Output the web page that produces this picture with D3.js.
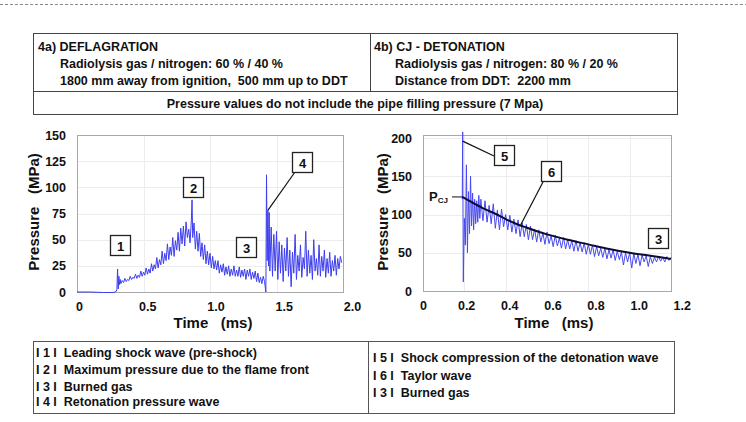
<!DOCTYPE html>
<html>
<head>
<meta charset="utf-8">
<script src="https://cdn.jsdelivr.net/npm/d3@7"></script>
<style>
body { margin: 0; background: #fff; }
svg text { font-family: "Liberation Sans", Arial, sans-serif; font-weight: bold; fill: #111; white-space: pre; }
</style>
</head>
<body>
<script>
// deflagration trace, [time ms, pressure MPa]
var deflagration = [
    [0,0],[0.1,0],[0.2,-0.5],[0.27,-0.5],[0.29,0],[0.30,2],[0.305,22],[0.31,3],[0.315,15],[0.32,7],
    [0.325,12],[0.33,8],[0.34,11],[0.35,9],[0.36,13],[0.37,10],[0.38,12],[0.39,11],[0.40,15],[0.41,12],
    [0.42,14],[0.43,13],[0.44,17],[0.45,13],[0.46,16],[0.47,14],[0.48,20],[0.49,15],[0.50,19],[0.51,16],
    [0.52,23],[0.53,17],[0.54,22],[0.55,18],[0.56,27],[0.57,20],[0.58,26],[0.59,22],[0.60,33],[0.61,23],
    [0.62,31],[0.63,26],[0.64,39],[0.65,27],[0.66,37],[0.67,30],[0.68,46],[0.69,31],[0.70,43],[0.71,35],
    [0.72,52],[0.73,34],[0.74,49],[0.75,40],[0.76,57],[0.77,39],[0.78,61],[0.79,46],[0.80,63],[0.81,44],
    [0.82,67],[0.83,52],[0.84,60],[0.85,47],[0.86,69],[0.865,88],[0.87,52],[0.88,66],[0.89,41],[0.90,58],
    [0.91,39],[0.92,56],[0.93,34],[0.94,47],[0.95,31],[0.96,45],[0.97,27],[0.98,39],[0.99,26],[1.00,37],
    [1.01,23],[1.02,34],[1.03,22],[1.04,30],[1.05,21],[1.06,30],[1.07,18],[1.08,26],[1.09,19],[1.10,27],
    [1.11,16],[1.12,24],[1.13,17],[1.14,25],[1.15,15],[1.16,22],[1.17,16],[1.18,25],[1.19,15],[1.20,21],
    [1.21,15],[1.22,24],[1.23,14],[1.24,21],[1.25,15],[1.26,22],[1.27,12],[1.28,21],[1.29,15],[1.30,22],
    [1.31,12],[1.32,19],[1.33,13],[1.34,20],[1.35,10],[1.36,18],[1.37,9],[1.38,14],[1.39,8],[1.40,15],
    [1.41,10],[1.42,0],[1.425,112],[1.43,30],[1.435,78],[1.44,25],[1.445,76],[1.45,20],[1.46,62],[1.47,15],
    [1.48,55],[1.49,20],[1.50,58],[1.51,12],[1.52,48],[1.53,18],[1.54,45],[1.55,10],[1.56,42],[1.57,20],
    [1.58,52],[1.59,15],[1.60,40],[1.61,5],[1.62,38],[1.63,18],[1.64,55],[1.65,12],[1.66,35],[1.67,20],
    [1.68,45],[1.69,14],[1.70,33],[1.71,22],[1.72,58],[1.73,15],[1.74,40],[1.75,18],[1.76,35],[1.77,12],
    [1.78,50],[1.79,20],[1.80,32],[1.81,16],[1.82,45],[1.83,15],[1.84,34],[1.85,20],[1.86,40],[1.87,14],
    [1.88,32],[1.89,18],[1.90,38],[1.91,15],[1.92,30],[1.93,20],[1.94,35],[1.95,16],[1.96,32],[1.97,22],
    [1.98,34],[1.99,28]
];

// detonation trace, [time ms, pressure MPa]
var detonation = [
    [0.19,120],[0.192,208],[0.195,12],[0.20,95],[0.205,60],[0.21,165],[0.215,50],[0.22,130],[0.225,75],[0.23,150],
    [0.235,85],[0.24,128],[0.245,80],[0.25,120],[0.255,88],[0.26,118],[0.265,90],[0.27,125],[0.275,95],[0.28,120],
    [0.29,92],[0.30,118],[0.31,90],[0.32,112],[0.33,88],[0.34,114],[0.35,82],[0.36,106],[0.37,80],[0.38,107],
    [0.39,84],[0.40,100],[0.41,80],[0.42,99],[0.43,77],[0.44,94],[0.45,75],[0.46,93],[0.47,71],[0.48,89],
    [0.49,71],[0.50,87],[0.51,67],[0.52,85],[0.53,67],[0.54,81],[0.55,64],[0.56,80],[0.57,64],[0.58,76],
    [0.59,61],[0.60,77],[0.61,62],[0.62,72],[0.63,58],[0.64,73],[0.65,59],[0.66,69],[0.67,56],[0.68,70],
    [0.69,55],[0.70,67],[0.71,55],[0.72,66],[0.73,52],[0.74,66],[0.75,52],[0.76,63],[0.77,51],[0.78,63],
    [0.79,48],[0.80,61],[0.81,48],[0.82,60],[0.83,45],[0.84,58],[0.85,46],[0.86,56],[0.87,44],[0.88,56],
    [0.89,42],[0.90,54],[0.91,43],[0.92,54],[0.93,40],[0.94,52],[0.95,41],[0.96,51],[0.97,34],[0.98,50],
    [0.99,38],[1.00,50],[1.01,30],[1.02,49],[1.03,36],[1.04,48],[1.05,33],[1.06,47],[1.07,38],[1.08,46],
    [1.09,32],[1.10,45],[1.11,36],[1.12,44],[1.13,38],[1.14,45],[1.15,39],[1.16,44],[1.17,38],[1.18,45],
    [1.19,40],[1.20,44]
];

// fitted Taylor wave curve
var taylor = [
    [0.19,123],[0.25,114],[0.30,107],[0.35,101],[0.40,94],[0.45,88],[0.50,83],[0.60,74],
    [0.70,67],[0.80,61],[0.90,55],[1.00,50],[1.10,46],[1.20,42]
];

var leftXTicks = [0, 0.5, 1.0, 1.5, 2.0];
var leftYTicks = [0, 25, 50, 75, 100, 125, 150];
var rightXTicks = [0, 0.2, 0.4, 0.6, 0.8, 1.0, 1.2];
var rightYTicks = [0, 50, 100, 150, 200];

var headerLeft = ["4a) DEFLAGRATION", "Radiolysis gas / nitrogen: 60 % / 40 %", "1800 mm away from ignition,  500 mm up to DDT"];
var headerRight = ["4b) CJ - DETONATION", "Radiolysis gas / nitrogen: 80 % / 20 %", "Distance from DDT:  2200 mm"];
var headerNote = "Pressure values do not include the pipe filling pressure (7 Mpa)";
var legendLeft = ["I 1 I  Leading shock wave (pre-shock)", "I 2 I  Maximum pressure due to the flame front", "I 3 I  Burned gas", "I 4 I  Retonation pressure wave"];
var legendRight = ["I 5 I  Shock compression of the detonation wave", "I 6 I  Taylor wave", "I 3 I  Burned gas"];

window.onload = function(){

    var w = 746, h = 422;
    var svg = d3.select("body").append("svg")
        .attr("width", w)
        .attr("height", h);

    //dashed line at the very top
    svg.append("line")
        .attr("x1", 0).attr("x2", w)
        .attr("y1", 4.5).attr("y2", 4.5)
        .style("stroke", "#888")
        .style("stroke-dasharray", "3,2");

    //header table
    var hdr = svg.append("g").style("stroke", "#444").style("fill", "none");
    hdr.append("rect").attr("x", 33.5).attr("y", 33.5).attr("width", 644).attr("height", 81);
    hdr.append("line").attr("x1", 370.5).attr("x2", 370.5).attr("y1", 33.5).attr("y2", 91.5);
    hdr.append("line").attr("x1", 33.5).attr("x2", 677.5).attr("y1", 91.5).attr("y2", 91.5);

    svg.selectAll(".hl")
        .data(headerLeft)
        .enter()
        .append("text")
        .attr("class", "hl")
        .attr("x", function(d, i){ return i == 0 ? 38 : 60; })
        .attr("y", function(d, i){ return 51 + i * 17; })
        .style("font-size", "12.5px")
        .text(function(d){ return d; });

    svg.selectAll(".hr")
        .data(headerRight)
        .enter()
        .append("text")
        .attr("class", "hr")
        .attr("x", function(d, i){ return i == 0 ? 374 : 395; })
        .attr("y", function(d, i){ return 51 + i * 17; })
        .style("font-size", "12.5px")
        .text(function(d){ return d; });

    svg.append("text")
        .attr("x", 355).attr("y", 108)
        .attr("text-anchor", "middle")
        .style("font-size", "12.5px")
        .text(headerNote);

    //----- left chart: deflagration
    var x1 = d3.scaleLinear().domain([0, 2]).range([77, 343]);
    var y1 = d3.scaleLinear().domain([0, 150]).range([292, 135]);

    //----- right chart: detonation
    var x2 = d3.scaleLinear().domain([0, 1.2]).range([423, 671]);
    var y2 = d3.scaleLinear().domain([0, 204]).range([291, 135]);

    function drawFrame(x, y, xt, yt, xShift){
        var g = svg.append("g");
        //faint grid
        g.selectAll(".gx").data(xt.slice(1, -1)).enter().append("line")
            .attr("x1", function(d){ return Math.round(x(d)) + 0.5; })
            .attr("x2", function(d){ return Math.round(x(d)) + 0.5; })
            .attr("y1", y.range()[0]).attr("y2", y.range()[1])
            .style("stroke", "#ececec");
        g.selectAll(".gy").data(yt.slice(1)).enter().append("line")
            .attr("x1", x.range()[0]).attr("x2", x.range()[1])
            .attr("y1", function(d){ return Math.round(y(d)) + 0.5; })
            .attr("y2", function(d){ return Math.round(y(d)) + 0.5; })
            .style("stroke", "#ececec");
        //plot frame
        g.append("rect")
            .attr("x", x.range()[0] + 0.5)
            .attr("y", y.range()[1] + 0.5)
            .attr("width", x.range()[1] - x.range()[0])
            .attr("height", y.range()[0] - y.range()[1])
            .style("fill", "none")
            .style("stroke", "#a8a8a8");

        var xa = svg.append("g")
            .attr("transform", "translate(0," + (y.range()[0] + 7) + ")")
            .call(d3.axisBottom(x).tickValues(xt).tickSize(0).tickFormat(function(d){
                return d == 0 ? "0" : d3.format(".1f")(d);
            }));
        xa.select(".domain").remove();
        xa.selectAll("text")
            .attr("dx", function(d){ return xShift(d); })
            .style("font-size", "12.5px")
            .style("font-family", "Liberation Sans, Arial, sans-serif");

        var ya = svg.append("g")
            .attr("transform", "translate(" + (x.range()[0] - 8) + ",0)")
            .call(d3.axisLeft(y).tickValues(yt).tickSize(0));
        ya.select(".domain").remove();
        ya.selectAll("text")
            .style("font-size", "12.5px")
            .style("font-family", "Liberation Sans, Arial, sans-serif");
    }

    drawFrame(x1, y1, leftXTicks, leftYTicks, function(d){ return 2 + d * 3.5; });
    drawFrame(x2, y2, rightXTicks, rightYTicks, function(d){ return d * 9; });

    //traces
    var line1 = d3.line().x(function(d){ return x1(d[0]); }).y(function(d){ return y1(d[1]); });
    var line2 = d3.line().x(function(d){ return x2(d[0]); }).y(function(d){ return y2(d[1]); });
    var line3 = d3.line().curve(d3.curveMonotoneX).x(function(d){ return x2(d[0]); }).y(function(d){ return y2(d[1]); });

    svg.append("path")
        .datum(deflagration)
        .attr("d", line1)
        .style("fill", "none")
        .style("stroke", "#3d3df0")
        .style("stroke-width", 1);

    svg.append("path")
        .datum(detonation)
        .attr("d", line2)
        .style("fill", "none")
        .style("stroke", "#4848f2")
        .style("stroke-width", 1);

    svg.append("path")
        .datum(taylor)
        .attr("d", line3)
        .style("fill", "none")
        .style("stroke", "#0c0c30")
        .style("stroke-width", 2);

    //P_CJ label and tick
    svg.append("line")
        .attr("x1", 452).attr("x2", x2(0.19))
        .attr("y1", y2(123)).attr("y2", y2(123))
        .style("stroke", "#111");
    var pcj = svg.append("text")
        .attr("x", 429).attr("y", y2(123) + 4)
        .style("font-size", "13px");
    pcj.append("tspan").text("P");
    pcj.append("tspan").attr("dy", 2).style("font-size", "8px").text("CJ");

    //axis titles
    svg.append("text").attr("x", 213).attr("y", 328).attr("text-anchor", "middle")
        .style("font-size", "15px").text("Time   (ms)");
    svg.append("text").attr("x", 554).attr("y", 328).attr("text-anchor", "middle")
        .style("font-size", "15px").text("Time   (ms)");
    svg.append("text").attr("transform", "translate(39,212) rotate(-90)").attr("text-anchor", "middle")
        .style("font-size", "15px").text("Pressure   (MPa)");
    svg.append("text").attr("transform", "translate(388,212) rotate(-90)").attr("text-anchor", "middle")
        .style("font-size", "15px").text("Pressure   (MPa)");

    //numbered annotation boxes with leader lines
    var notes = [
        {n: "1", x: 110, y: 235},
        {n: "2", x: 183, y: 177},
        {n: "3", x: 236, y: 237},
        {n: "4", x: 292, y: 152},
        {n: "5", x: 494, y: 145},
        {n: "6", x: 541, y: 161},
        {n: "3", x: 648, y: 228}
    ];
    var leaders = [
        [[295, 172], [x1(1.435), y1(78)]],
        [[494, 156], [x2(0.192), y2(196)]],
        [[543, 182], [x2(0.47), y2(85)]]
    ];
    svg.selectAll(".leader")
        .data(leaders)
        .enter()
        .append("line")
        .attr("class", "leader")
        .attr("x1", function(d){ return d[0][0]; })
        .attr("y1", function(d){ return d[0][1]; })
        .attr("x2", function(d){ return d[1][0]; })
        .attr("y2", function(d){ return d[1][1]; })
        .style("stroke", "#111")
        .style("stroke-width", 1.2);

    var boxes = svg.selectAll(".note")
        .data(notes)
        .enter()
        .append("g")
        .attr("class", "note")
        .attr("transform", function(d){ return "translate(" + d.x + "," + d.y + ")"; });
    boxes.append("rect")
        .attr("x", 0.5).attr("y", 0.5)
        .attr("width", 20).attr("height", 20)
        .style("fill", "#fff")
        .style("stroke", "#222")
        .style("stroke-width", 1.3);
    boxes.append("text")
        .attr("x", 10.5).attr("y", 15.5)
        .attr("text-anchor", "middle")
        .style("font-size", "13px")
        .text(function(d){ return d.n; });

    //legend table at the bottom
    var leg = svg.append("g").style("stroke", "#555").style("fill", "none");
    leg.append("rect").attr("x", 33.5).attr("y", 341.5).attr("width", 641).attr("height", 72);
    leg.append("line").attr("x1", 368.5).attr("x2", 368.5).attr("y1", 341.5).attr("y2", 413.5);

    svg.selectAll(".ll")
        .data(legendLeft)
        .enter()
        .append("text")
        .attr("class", "ll")
        .attr("x", 36)
        .attr("y", function(d, i){ return [357, 374, 391, 406][i]; })
        .style("font-size", "12.5px")
        .text(function(d){ return d; });

    svg.selectAll(".lr")
        .data(legendRight)
        .enter()
        .append("text")
        .attr("class", "lr")
        .attr("x", 373)
        .attr("y", function(d, i){ return 362 + i * 17.5; })
        .style("font-size", "12.5px")
        .text(function(d){ return d; });
};
</script>
</body>
</html>
